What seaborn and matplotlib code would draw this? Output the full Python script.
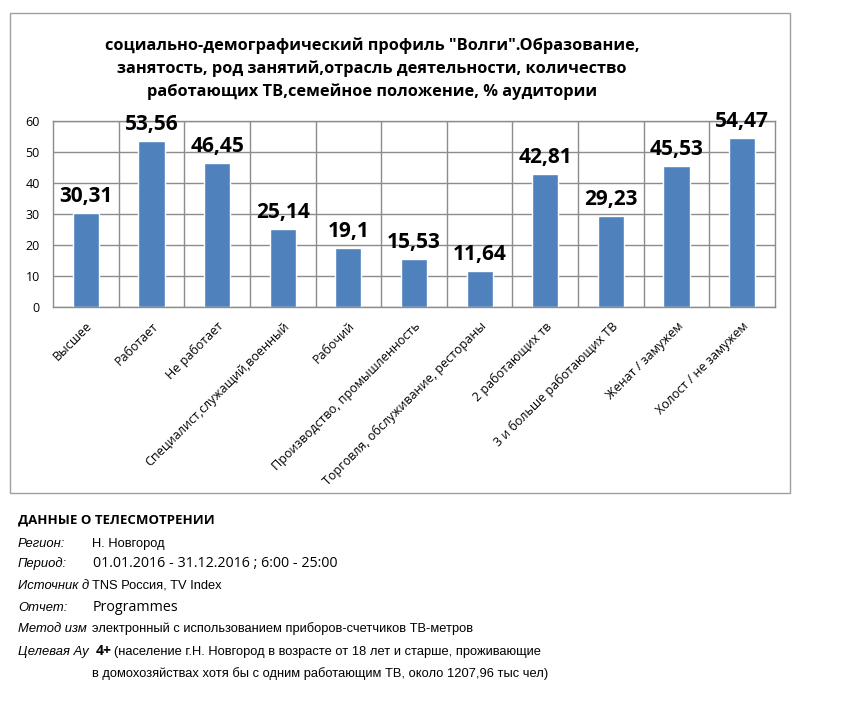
import matplotlib
matplotlib.use("Agg")
import matplotlib.pyplot as plt
import seaborn as sns
import pandas as pd
from matplotlib.patches import Rectangle

# Chart data
categories = [
    "Высшее", "Работает", "Не работает", "Специалист,служащий,военный",
    "Рабочий", "Производство, промышленность", "Торговля, обслуживание, рестораны",
    "2 работающих тв", "3 и больше работающих ТВ", "Женат / замужем",
    "Холост / не замужем",
]
values = [30.31, 53.56, 46.45, 25.14, 19.1, 15.53, 11.64, 42.81, 29.23, 45.53, 54.47]
value_labels = ["30,31", "53,56", "46,45", "25,14", "19,1", "15,53", "11,64",
                "42,81", "29,23", "45,53", "54,47"]
y_ticks = [0, 10, 20, 30, 40, 50, 60]

title = ('социально-демографический профиль "Волги".Образование,\n'
         'занятость, род занятий,отрасль деятельности, количество\n'
         'работающих ТВ,семейное положение, % аудитории')

footer_labels = ["Регион:", "Период:", "Источник д", "Отчет:", "Метод изм", "Целевая Ау", ""]
footer_values = ["Н. Новгород", "01.01.2016 - 31.12.2016 ; 6:00 - 25:00",
                 "TNS Россия, TV Index", "Programmes",
                 "электронный с использованием приборов-счетчиков ТВ-метров",
                 "(население г.Н. Новгород в возрасте от 18 лет и старше, проживающие",
                 "в домохозяйствах хотя бы с одним работающим ТВ, около 1207,96 тыс чел)"]
# rows typeset in the wider (Calibri-like) face in the original
wide_rows = {"Период:", "Отчет:"}

W, H = 846, 701
BAR = "#4F81BD"
GRID = "#8C8C8C"

sns.set_style("white")
plt.rcParams['font.family'] = ['Open Sans', 'DejaVu Sans']
plt.rcParams['text.color'] = 'black'
plt.rcParams['xtick.color'] = 'black'
plt.rcParams['ytick.color'] = 'black'

fig = plt.figure(figsize=(W / 100, H / 100), dpi=100)

# outer chart frame
fig.patches.append(Rectangle((10 / W, 1 - 493 / H), 780 / W, 480 / H,
                             transform=fig.transFigure, fill=False,
                             edgecolor="#A0A0A0", linewidth=1))

ax = fig.add_axes([53 / W, 1 - 307 / H, 722 / W, 186 / H])
df = pd.DataFrame({"cat": categories, "val": values})
sns.barplot(data=df, x="cat", y="val", color=BAR, width=0.4, saturation=1, ax=ax)

ax.set_xlim(-0.5, len(categories) - 0.5)
ax.set_ylim(0, 60)
ax.set_yticks(y_ticks)
ax.set_xlabel("")
ax.set_ylabel("")
ax.tick_params(axis="y", labelsize=9, length=0, pad=9.5)
ax.tick_params(axis="x", length=0, pad=9)
ax.set_xticks(range(len(categories)))
ax.set_xticklabels(categories, rotation=45, ha="right", rotation_mode="anchor", fontsize=9)
ax.set_xticks([i + 0.5 for i in range(len(categories) - 1)], minor=True)
ax.tick_params(axis="x", which="minor", length=0)
ax.grid(True, axis="y", color=GRID, linewidth=1)
ax.grid(True, axis="x", which="minor", color=GRID, linewidth=1)
ax.set_axisbelow(True)
for s in ax.spines.values():
    s.set_color(GRID)
    s.set_linewidth(1)
    s.set_visible(True)

for i, (v, lab) in enumerate(zip(values, value_labels)):
    ax.annotate(lab, (i, v), xytext=(0, 4.5), textcoords="offset points",
                ha="center", va="bottom", fontsize=15, fontweight="bold")

fig.text(372 / W, 1 - 69 / H, title, ha="center", va="center", fontsize=11.8,
         fontweight="bold", linespacing=1.5)

# footer block
fig.text(18 / W, 1 - 524 / H, "ДАННЫЕ О ТЕЛЕСМОТРЕНИИ", fontsize=9.5,
         fontweight="bold", va="baseline")
rows_y = [547, 567, 589, 611, 632, 655, 677]
for lab, val, y in zip(footer_labels, footer_values, rows_y):
    fig.text(18 / W, 1 - y / H, lab, fontsize=9.4, style="italic",
             family="Liberation Sans", va="baseline")
    if lab == "Целевая Ау":
        fig.text(96 / W, 1 - y / H, "4+", fontsize=10, fontweight="bold",
                 va="baseline")
        fig.text(114 / W, 1 - y / H, val, fontsize=9.3,
                 family="Liberation Sans", va="baseline")
    elif lab in wide_rows:
        fig.text(93 / W, 1 - y / H, val, fontsize=10.3, va="baseline")
    else:
        fig.text(92 / W, 1 - y / H, val, fontsize=9.3,
                 family="Liberation Sans", va="baseline")

fig.savefig("out.png", dpi=100)
